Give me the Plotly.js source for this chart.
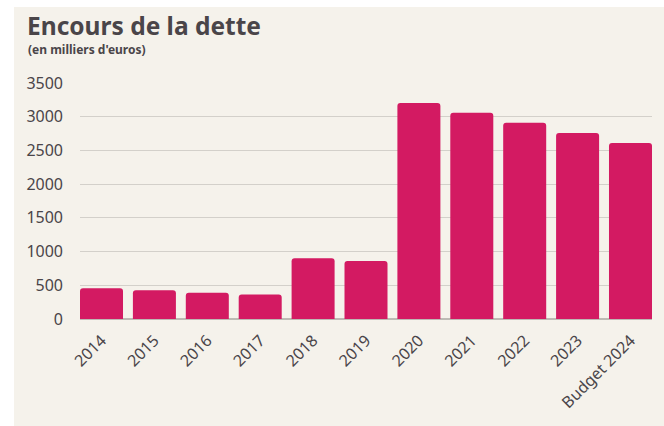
<!DOCTYPE html>
<html>
<head>
<meta charset="utf-8">
<script src="https://cdn.plot.ly/plotly-3.0.1.min.js"></script>
<style>
  html, body { margin: 0; padding: 0; background: #ffffff; width: 664px; height: 426px; overflow: hidden; }
  #chart { position: absolute; left: 14px; top: 7px; width: 650px; height: 419px; }
</style>
</head>
<body>
<div id="chart"></div>
<script>
const categories = ["2014", "2015", "2016", "2017", "2018", "2019", "2020", "2021", "2022", "2023", "Budget 2024"];
const debtValues = [455, 425, 390, 365, 900, 860, 3205, 3060, 2910, 2760, 2610];
const yTickValues = [0, 500, 1000, 1500, 2000, 2500, 3000, 3500];
const chartTitle = "Encours de la dette";
const chartSubtitle = "(en milliers d'euros)";

const textColor = "#4a4549";
const fontFamily = "'Noto Sans', 'Open Sans', sans-serif";
const gap = 0.187;

const W = 650, H = 419;
const M = { l: 66, r: 12, t: 76, b: 107 };
const plotW = W - M.l - M.r;
const plotH = H - M.t - M.b;

const trace = {
  type: "bar",
  x: categories,
  y: debtValues,
  marker: { color: "#d31a62", line: { width: 0 } },
  hoverinfo: "x+y"
};

const layout = {
  width: W,
  height: H,
  paper_bgcolor: "#f5f2eb",
  plot_bgcolor: "#f5f2eb",
  margin: { l: M.l, r: M.r, t: M.t, b: M.b, pad: 0 },
  bargap: gap,
  barcornerradius: 3,
  showlegend: false,
  font: { family: fontFamily, color: textColor },
  title: {
    text: "<b>" + chartTitle + "</b>",
    font: { family: fontFamily, size: 24.5, color: textColor },
    x: 13 / W,
    xanchor: "left",
    xref: "container",
    y: 1 - 11 / H,
    yanchor: "top",
    yref: "container"
  },
  annotations: [{
    text: "<b>" + chartSubtitle + "</b>",
    xref: "paper", yref: "paper",
    x: (13 - M.l) / plotW,
    y: 1 + (M.t - 43) / plotH,
    xanchor: "left", yanchor: "middle",
    borderpad: 0,
    showarrow: false,
    font: { family: fontFamily, size: 12, color: textColor }
  }],
  xaxis: {
    type: "category",
    range: [-0.5 + gap / 2, categories.length - 0.5 - gap / 2],
    tickangle: -45,
    tickfont: { family: fontFamily, size: 16, color: textColor },
    showgrid: false,
    showline: false,
    ticks: "",
    ticklabelstandoff: 8,
    fixedrange: true
  },
  yaxis: {
    range: [0, 3500],
    tickvals: yTickValues,
    ticktext: yTickValues.map(String),
    tickfont: { family: fontFamily, size: 16, color: textColor },
    showgrid: true,
    gridcolor: "#d3d0ca",
    gridwidth: 1,
    zeroline: true,
    zerolinecolor: "#bdbab4",
    zerolinewidth: 1.5,
    showline: false,
    ticks: "",
    ticklabelstandoff: 16,
    fixedrange: true
  }
};

Plotly.newPlot("chart", [trace], layout, { displayModeBar: false, staticPlot: true });
</script>
</body>
</html>
